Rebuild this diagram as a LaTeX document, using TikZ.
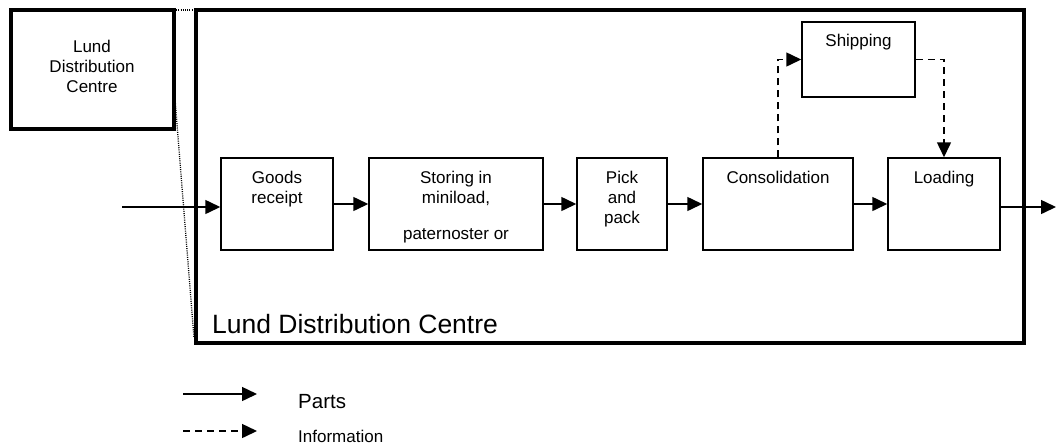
\documentclass[tikz,border=0pt]{standalone}
\usepackage{fontspec}
\setmainfont{Liberation Sans}
\usetikzlibrary{arrows.meta}
\begin{document}
\begin{tikzpicture}[x=1pt,y=-1pt,
  proc/.style={draw,line width=1.5pt,rectangle,inner sep=0pt},
  lbl/.style={anchor=north,inner sep=0pt,align=center,font=\fontsize{17}{20}\selectfont},
  parts/.style={line width=1.5pt,-{Triangle[length=15pt,width=14pt]}},
  info/.style={parts,dash pattern=on 7pt off 5pt},
  zoomline/.style={line width=1.3pt,dash pattern=on 1pt off 1.2pt},
  frame/.style={draw,line width=3.5pt}]
\useasboundingbox (0,0) rectangle (1056,445);

% overview box and its zoom lines
\draw[frame] (11,10) rectangle (174,129);
\node[lbl] (ovl) at (92,40) {Lund\\Distribution\\Centre};
\draw[zoomline] (174,10) -- (195,10);
\draw[zoomline] (175,99) -- (194,338);

% enlarged centre
\draw[frame] (196,10) rectangle (1024,343);
\node[anchor=base west,inner sep=0pt,font=\fontsize{26.5}{30}\selectfont] (ldc) at (212,333) {Lund Distribution Centre};

% process steps
\node[proc,minimum width=112pt,minimum height=92pt] (goods) at (277,204) {};
\node[proc,minimum width=174pt,minimum height=92pt] (store) at (456,204) {};
\node[proc,minimum width=90pt,minimum height=92pt] (pick) at (622,204) {};
\node[proc,minimum width=150pt,minimum height=92pt] (cons) at (778,204) {};
\node[proc,minimum width=112pt,minimum height=92pt] (load) at (944,204) {};
\node[proc,minimum width=113pt,minimum height=75pt] (ship) at (858.5,59.5) {};

\node[lbl] (tgoods) at (goods.center |- 0,171) {Goods\\receipt};
\node[lbl] (tstore) at (store.center |- 0,171) {Storing in\\miniload,\\[16pt]paternoster or};
\node[lbl] (tpick) at (pick.center |- 0,171) {Pick\\and\\pack};
\node[lbl] (tcons) at (cons.center |- 0,171) {Consolidation};
\node[lbl] (tload) at (load.center |- 0,171) {Loading};
\node[lbl] (tship) at (ship.center |- 0,34) {Shipping};

% material flow
\coordinate (src) at (122,207);
\coordinate (sink) at (1056,207);
\draw[parts] (src) -- (src -| goods.west);
\draw[parts] (goods.east) -- (store.west);
\draw[parts] (store.east) -- (pick.west);
\draw[parts] (pick.east) -- (cons.west);
\draw[parts] (cons.east) -- (load.west);
\draw[parts] (sink -| load.east) -- (sink);

% information flow
\draw[info] (cons.north) |- (ship.west);
\draw[info] (ship.east) -| (load.north);

% legend
\coordinate (lp0) at (183,394);
\coordinate (lp1) at (257,394);
\coordinate (li0) at (183,431);
\coordinate (li1) at (257,431);
\draw[parts] (lp0) -- (lp1);
\draw[info] (li0) -- (li1);
\node[anchor=base west,inner sep=0pt,font=\fontsize{20.5}{24}\selectfont] (kparts) at (298,408) {Parts};
\node[anchor=base west,inner sep=0pt,font=\fontsize{17}{20}\selectfont] (kinfo) at (298,442) {Information};
\end{tikzpicture}
\end{document}
